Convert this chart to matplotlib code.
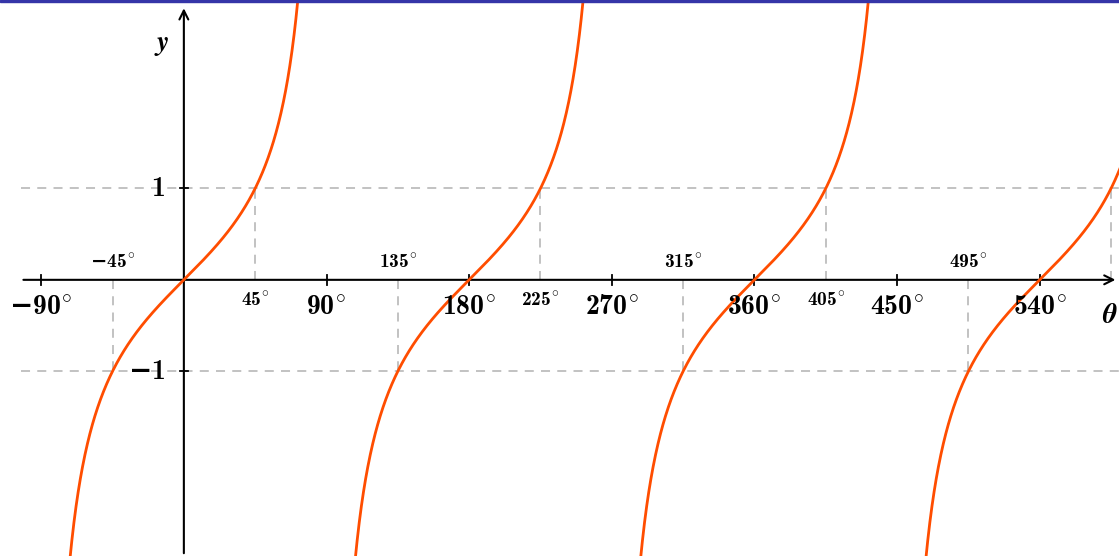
import numpy as np                     # for the curve and the angle arrays
import matplotlib
matplotlib.use("Agg")
import matplotlib.pyplot as plt         # library to draw the chart
from matplotlib.patches import Rectangle

# LaTeX bold look: computer modern bold (cmb10 ships with matplotlib)
plt.rcParams['mathtext.fontset'] = 'custom'
plt.rcParams['mathtext.rm'] = 'cmb10'
plt.rcParams['mathtext.it'] = 'cmb10'
plt.rcParams['mathtext.bf'] = 'cmb10'
# sans slot is only used for a thick minus sign
plt.rcParams['mathtext.sf'] = 'DejaVu Serif:bold'
plt.rcParams['mathtext.fallback'] = 'cm'

# ---------------- data of the chart ----------------
# big labels sit under the x axis at every multiple of 90 degrees
major_angles = [-90, 90, 180, 270, 360, 450, 540]
# tan = 1 points, labelled under the axis, dashed line goes up to y = 1
upper_angles = [45, 225, 405, 585]
upper_labels = [45, 225, 405]
# tan = -1 points, labelled above the axis, dashed line goes down to y = -1
lower_angles = [-45, 135, 315, 495]
# y ticks
y_ticks = [1, -1]
# asymptotes of tan that split the curve in branches
asymptotes = [-90, 90, 270, 450, 630]

# view window (degrees / y units)
x_min, x_max = -116, 590
y_min, y_max = -3.02, 3.06

curve_color = "#ff4d00"
grid_color = "#bdbdbd"


def deg_label(a):
    # angle with a degree sign pulled close to the digits
    if a < 0:
        return r"$\mathsf{-}%d^{\!\circ}$" % (-a)
    return r"$%d^{\!\circ}$" % a


fig = plt.figure(figsize=(11.19, 5.56), dpi=100)
ax = fig.add_axes([0, 0, 1, 1])
ax.set_xlim(x_min, x_max)
ax.set_ylim(y_min, y_max)
ax.axis("off")

# blue band at the very top (slide border)
fig.patches.append(Rectangle((0, 0.9965), 1, 0.0035, transform=fig.transFigure,
                             color="#3535a8", zorder=10))

# dashed horizontal lines at y = 1 and y = -1
for yv in y_ticks:
    ax.plot([-103, x_max], [yv, yv], color=grid_color, lw=1.3,
            dashes=(5, 4), zorder=1)

# dashed vertical lines from the axis to the curve
for a in upper_angles:
    ax.plot([a, a], [0, 1], color=grid_color, lw=1.3, dashes=(5, 4), zorder=1)
for a in lower_angles:
    ax.plot([a, a], [0, -1], color=grid_color, lw=1.3, dashes=(5, 4), zorder=1)

# axes with arrow heads
ax.annotate("", xy=(x_max - 0.5, 0), xytext=(-103, 0),
            arrowprops=dict(arrowstyle="->", color="black", lw=1.5,
                            mutation_scale=16), zorder=3)
ax.annotate("", xy=(0, 3.0), xytext=(0, y_min),
            arrowprops=dict(arrowstyle="->", color="black", lw=1.5,
                            mutation_scale=16), zorder=3)

# tick marks on the x axis
for a in major_angles:
    ax.plot([a, a], [-0.055, 0.055], color="black", lw=1.3, zorder=3)
# tick marks on the y axis
for yv in y_ticks:
    ax.plot([-2.5, 2.5], [yv, yv], color="black", lw=1.3, zorder=3)

# tan curve, one branch between each pair of asymptotes
for left, right in zip(asymptotes[:-1], asymptotes[1:]):
    th = np.linspace(left + 0.5, right - 0.5, 800)
    yy = np.tan(np.radians(th))
    keep = (yy > y_min - 0.5) & (yy < y_max + 0.5) & (th < x_max + 2)
    ax.plot(th[keep], yy[keep], color=curve_color, lw=2.0, zorder=4)

# ---------------- text ----------------
for a in major_angles:
    ax.text(a, -0.30, deg_label(a), ha="center", va="center", fontsize=20, zorder=5)
for a in upper_labels:
    ax.text(a, -0.22, deg_label(a), ha="center", va="center", fontsize=14, zorder=5)
for a in lower_angles:
    ax.text(a, 0.19, deg_label(a), ha="center", va="center", fontsize=14, zorder=5)

ax.text(-12, 1, r"$1$", ha="right", va="center", fontsize=20)
ax.text(-12, -1, r"$\mathsf{-}1$", ha="right", va="center", fontsize=20)

ax.text(-13, 2.59, "y", family="STIXGeneral", weight="bold", style="italic",
        ha="center", va="center", fontsize=20)
ax.text(584, -0.40, "θ", family="STIXGeneral", weight="bold", style="italic",
        ha="center", va="center", fontsize=20)

plt.savefig("out.png", dpi=100)
